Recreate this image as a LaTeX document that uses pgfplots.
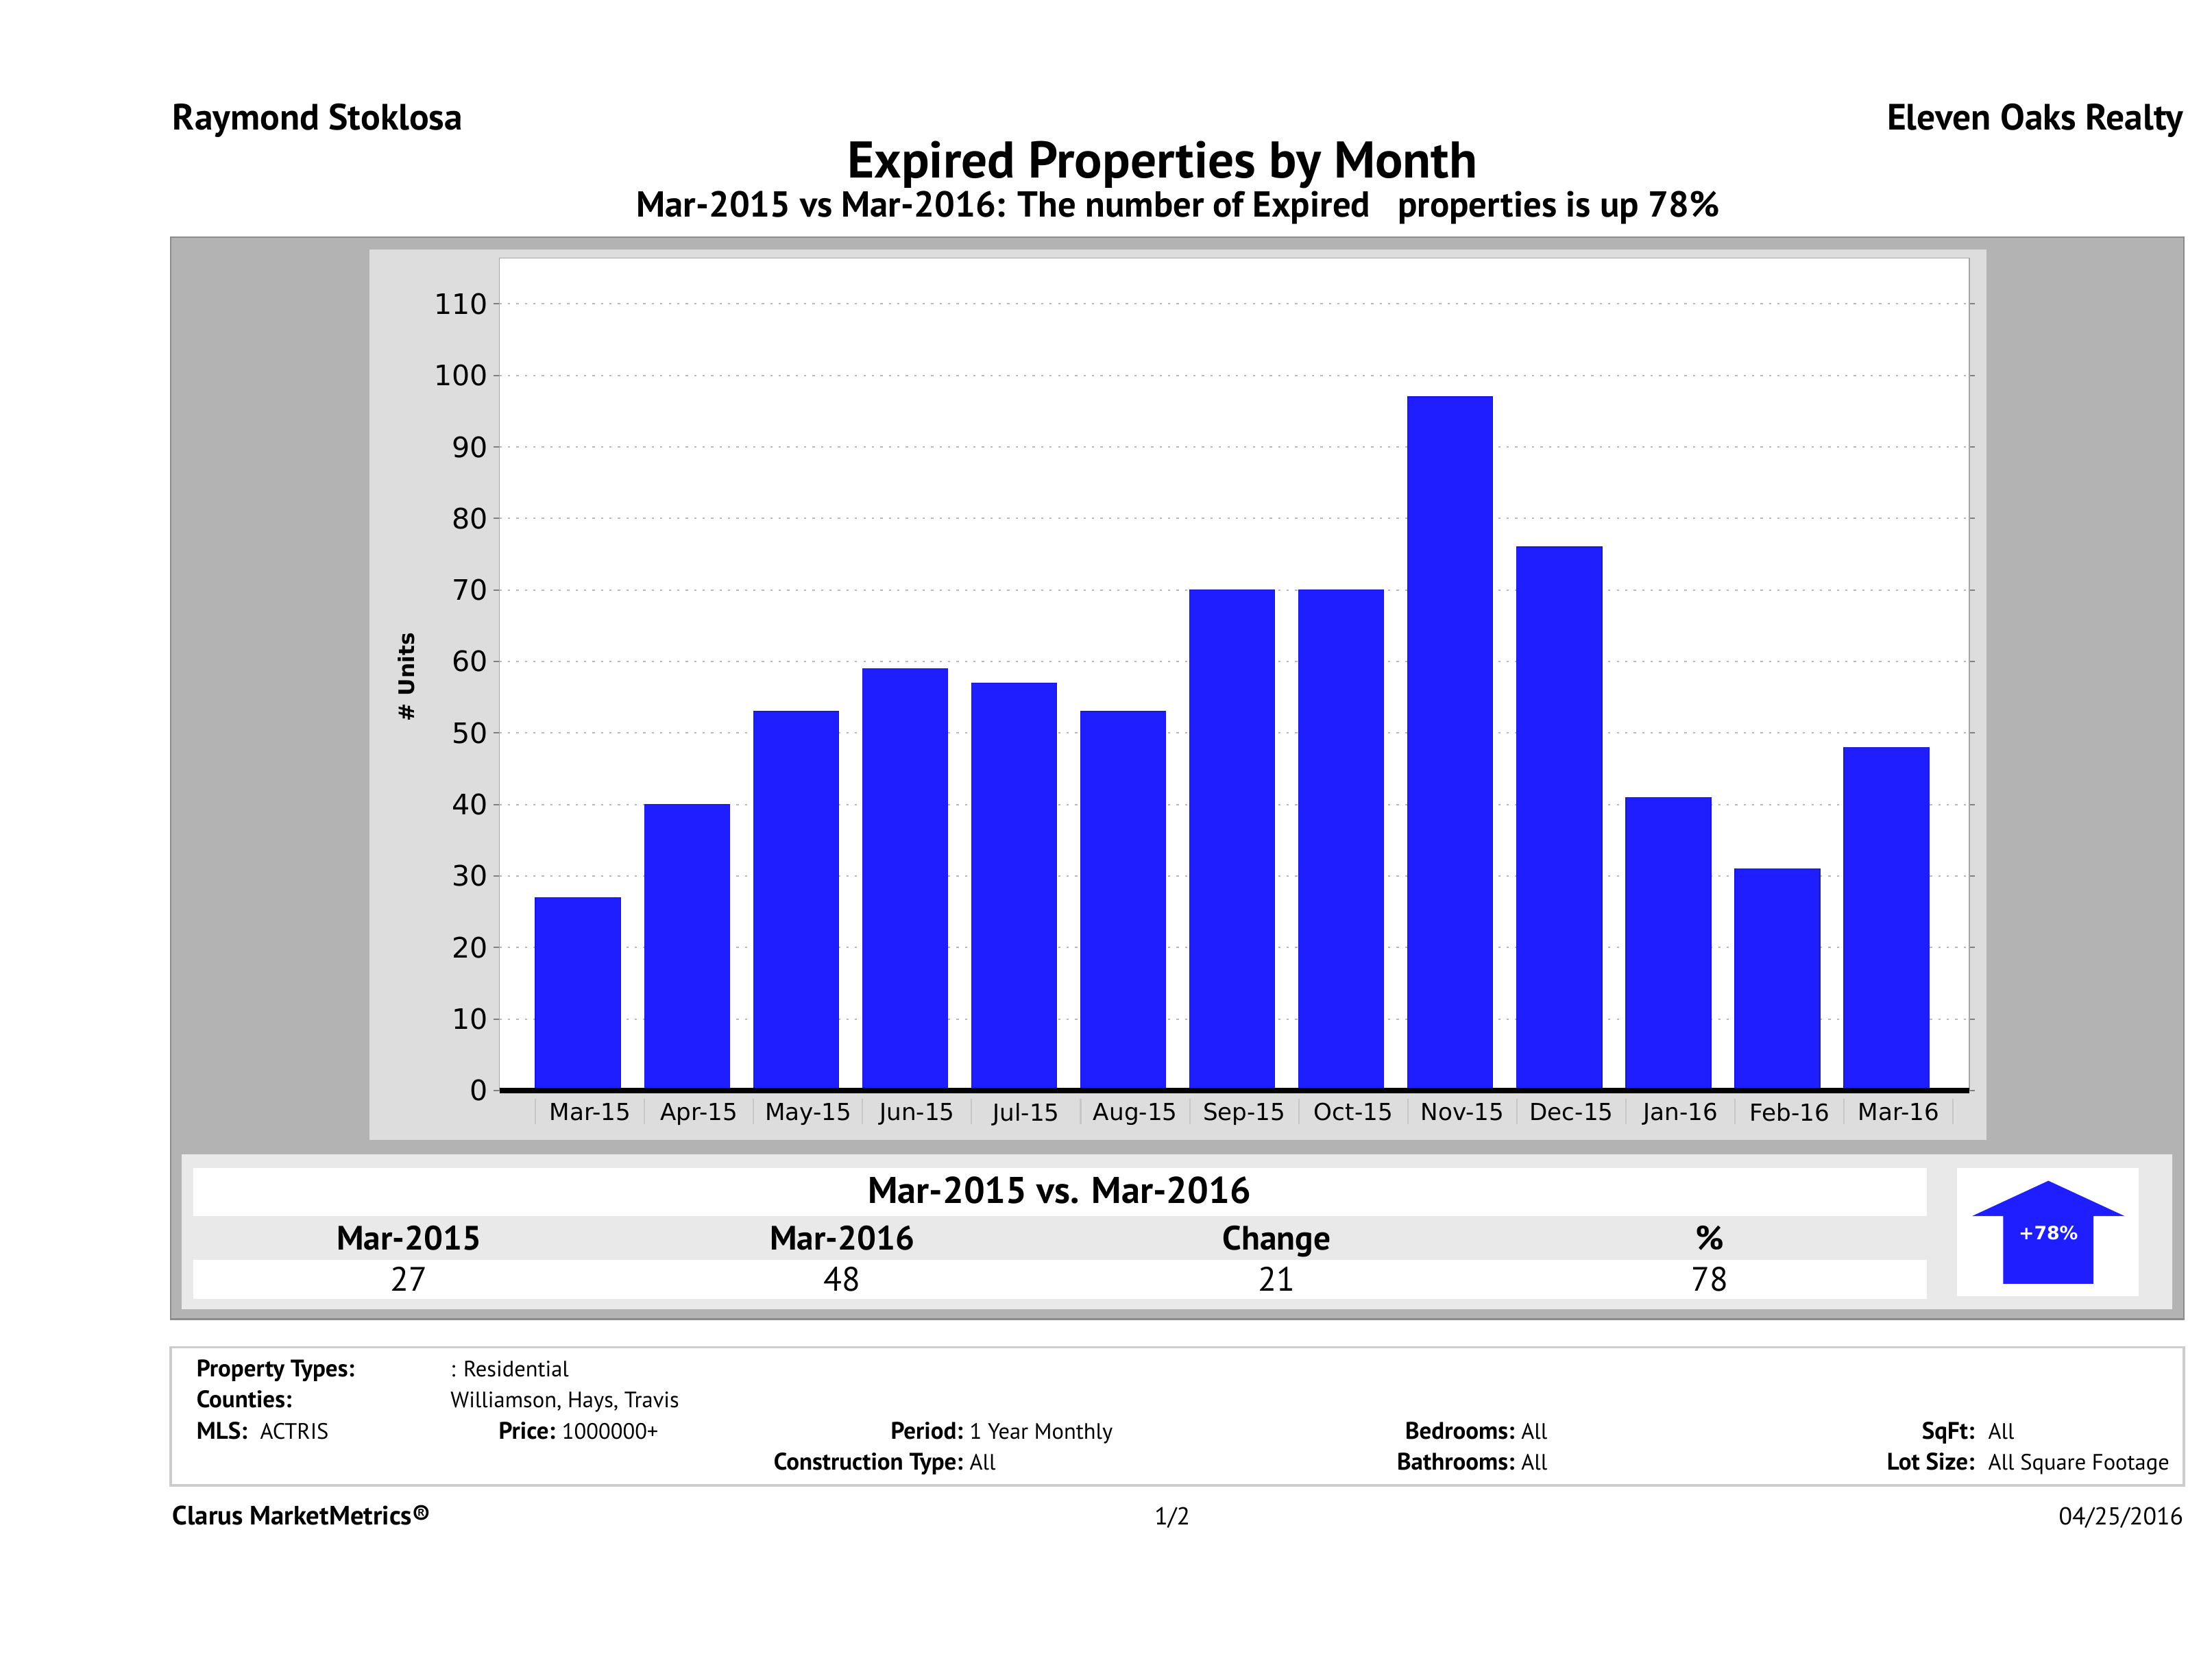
\documentclass[border=0pt]{standalone}
\usepackage{fontspec}
\setmainfont{PT Sans}
\newfontfamily\chartfont{DejaVu Sans}
\usepackage{pgfplots}
\pgfplotsset{compat=1.18}
\definecolor{barblue}{RGB}{30,30,255}
\definecolor{outergray}{RGB}{179,179,179}
\definecolor{panelgray}{RGB}{221,221,221}
\definecolor{lowgray}{RGB}{233,233,233}
\newcommand\fs[1]{\fontsize{#1}{#1}\selectfont}
\begin{document}
\begin{tikzpicture}
\begin{scope}[x=0.5pt,y=-0.5pt]
\path[use as bounding box] (0,0) rectangle (1568,1189);
\fill[white] (0,0) rectangle (1568,1189);
% outer gray box
\filldraw[fill=outergray,draw=gray!90,line width=0.6pt] (121,168) rectangle (1548,935);
% chart panel
\fill[panelgray] (262,177) rectangle (1408,808);
% lower panel
\fill[lowgray] (129,818) rectangle (1540,928);
\fill[white] (137,828) rectangle (1366,862);
\fill[white] (137,893) rectangle (1366,921);
\fill[white] (1387,828) rectangle (1516,919);
% arrow
\fill[barblue] (1398,862) -- (1452,837) -- (1506,862) -- (1484,862) -- (1484,910) -- (1420,910) -- (1420,862) -- cycle;
\node[white,font=\chartfont\bfseries\fs{6.5}] at (1452,874) {+78\%};
% info box
\filldraw[fill=white,draw=gray!40,line width=0.8pt] (121,955) rectangle (1548,1053);
\end{scope}

\begin{axis}[
  at={(177pt,-386.5pt)}, anchor=south west,
  scale only axis, width=521pt, height=295pt,
  xmin=-0.72, xmax=12.76, ymin=0, ymax=116.4,
  ybar, bar width=0.78,
  clip=false,
  axis background/.style={fill=white},
  axis line style={gray!70},
  xtick={0,...,12},
  xticklabels={Mar-15,Apr-15,May-15,Jun-15,Jul-15,Aug-15,Sep-15,Oct-15,Nov-15,Dec-15,Jan-16,Feb-16,Mar-16},
  tick align=outside,
  major tick length=2pt,
  xtick style={draw=none},
  ytick={0,10,...,110},
  ytick style={gray,line width=0.5pt},
  ymajorgrids,
  major grid style={gray!55,line width=0.5pt,dash pattern=on 0.8pt off 2.2pt},
  /pgf/number format/assume math mode=true,
  yticklabel style={font=\chartfont\fs{10},xshift=1.5pt},
  xticklabel style={font=\chartfont\fs{8.3},yshift=1pt,xshift=4.3pt},
]
\addplot[fill=barblue,draw=barblue!80!black,line width=0.3pt] coordinates {
(0,27) (1,40) (2,53) (3,59) (4,57) (5,53) (6,70) (7,70) (8,97) (9,76) (10,41) (11,31) (12,48)};
\pgfplotsinvokeforeach{-0.39,0.61,1.61,2.61,3.61,4.61,5.61,6.61,7.61,8.61,9.61,10.61,11.61,12.61}{
  \draw[gray!45,line width=0.5pt] ([yshift=-3pt]axis cs:#1,0) -- ([yshift=-12pt]axis cs:#1,0);
}
\draw[black,line width=2pt] (axis cs:-0.72,0) -- (axis cs:12.76,0);
\end{axis}

\begin{scope}[x=0.5pt,y=-0.5pt]
\node[rotate=90,font=\chartfont\bfseries\fs{7.6}] at (288,480) {\# Units};
% header
\node[anchor=base west,inner sep=0,font=\bfseries\fs{13}] at (122,92) {Raymond Stoklosa};
\node[anchor=base east,inner sep=0,font=\bfseries\fs{13}] at (1548,92) {Eleven Oaks Realty};
\node[anchor=base,inner sep=0,font=\bfseries\fs{18.3}] at (824,126) {Expired Properties by Month};
\node[anchor=base,inner sep=0,font=\bfseries\fs{12.8}] at (835,154) {Mar-2015 vs Mar-2016: The number of Expired\ \ \ properties is up 78\%};
% table
\node[anchor=base,inner sep=0,font=\bfseries\fs{13.2}] at (751,853) {Mar-2015 vs. Mar-2016};
\node[anchor=base,inner sep=0,font=\bfseries\fs{12}] at (290,886) {Mar-2015};
\node[anchor=base,inner sep=0,font=\bfseries\fs{12}] at (597,886) {Mar-2016};
\node[anchor=base,inner sep=0,font=\bfseries\fs{12}] at (905,886) {Change};
\node[anchor=base,inner sep=0,font=\bfseries\fs{12}] at (1212,886) {\%};
\node[anchor=base,inner sep=0,font=\fs{12}] at (290,915) {27};
\node[anchor=base,inner sep=0,font=\fs{12}] at (597,915) {48};
\node[anchor=base,inner sep=0,font=\fs{12}] at (905,915) {21};
\node[anchor=base,inner sep=0,font=\fs{12}] at (1212,915) {78};
% info
\begin{scope}[every node/.style={inner sep=0,font=\fs{7.9}}]
\node[anchor=base west,font=\bfseries\fs{8.5}] at (139,976) {Property Types:};
\node[anchor=base west] at (319,976) {: Residential};
\node[anchor=base west,font=\bfseries\fs{8.5}] at (139,998) {Counties:};
\node[anchor=base west] at (319,998) {Williamson, Hays, Travis};
\node[anchor=base west,font=\bfseries\fs{8.5}] at (139,1020) {MLS:};
\node[anchor=base west] at (184,1020) {ACTRIS};
\node[anchor=base east,font=\bfseries\fs{8.5}] at (394,1020) {Price:};
\node[anchor=base west] at (398,1020) {1000000+};
\node[anchor=base east,font=\bfseries\fs{8.5}] at (683,1020) {Period:};
\node[anchor=base west] at (687,1020) {1 Year Monthly};
\node[anchor=base east,font=\bfseries\fs{8.5}] at (1074,1020) {Bedrooms:};
\node[anchor=base west] at (1078,1020) {All};
\node[anchor=base east,font=\bfseries\fs{8.5}] at (1400,1020) {SqFt:};
\node[anchor=base west] at (1409,1020) {All};
\node[anchor=base east,font=\bfseries\fs{8.5}] at (683,1042) {Construction Type:};
\node[anchor=base west] at (687,1042) {All};
\node[anchor=base east,font=\bfseries\fs{8.5}] at (1074,1042) {Bathrooms:};
\node[anchor=base west] at (1078,1042) {All};
\node[anchor=base east,font=\bfseries\fs{8.5}] at (1400,1042) {Lot Size:};
\node[anchor=base west] at (1409,1042) {All Square Footage};
\end{scope}
% footer
\node[anchor=base west,inner sep=0,font=\bfseries\fs{9.4}] at (122,1081) {Clarus MarketMetrics®};
\node[anchor=base,inner sep=0,font=\fs{8.7}] at (831,1081) {1/2};
\node[anchor=base east,inner sep=0,font=\fs{8.7}] at (1548,1081) {04/25/2016};
\end{scope}
\end{tikzpicture}
\end{document}
